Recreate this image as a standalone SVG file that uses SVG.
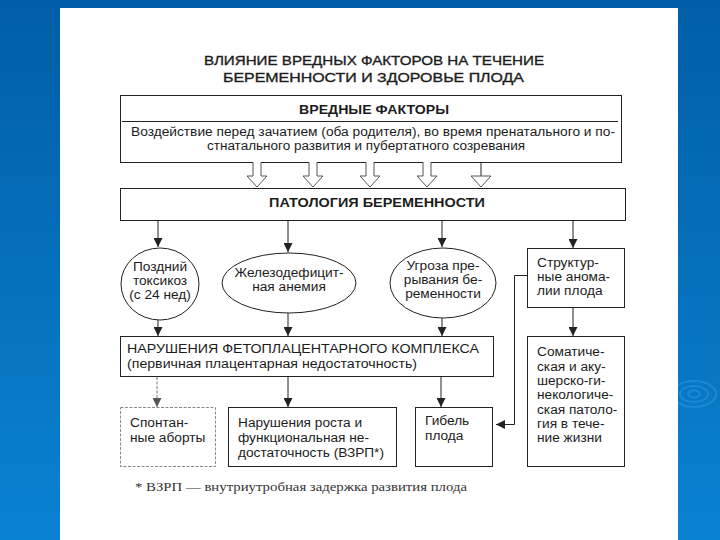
<svg xmlns="http://www.w3.org/2000/svg" width="720" height="540" viewBox="0 0 720 540">
<defs>
<linearGradient id="bg" x1="0" y1="0" x2="0" y2="1">
<stop offset="0" stop-color="#005ea6"/>
<stop offset="1" stop-color="#0a82d2"/>
</linearGradient>
<marker id="ah" viewBox="0 0 10 10" refX="10" refY="5" markerWidth="10" markerHeight="9" markerUnits="userSpaceOnUse" orient="auto">
<path d="M0,0 L10,5 L0,10 Z" fill="#222"/>
</marker>
<marker id="ahg" viewBox="0 0 10 10" refX="10" refY="5" markerWidth="10" markerHeight="9" markerUnits="userSpaceOnUse" orient="auto">
<path d="M0,0 L10,5 L0,10 Z" fill="#555"/>
</marker>
<style>
.t{font-family:"Liberation Sans",Arial,sans-serif;font-size:13.7px;fill:#1c1c1c}
.b{font-weight:bold}
.c{text-anchor:middle}
.box{fill:#fff;stroke:#222;stroke-width:1}
.lbox{fill:#fff;stroke:#888;stroke-width:1;stroke-dasharray:3 1.5}
.ell{fill:#fff;stroke:#222;stroke-width:1}
.ln{fill:none;stroke:#222;stroke-width:1}
.lg{fill:none;stroke:#777;stroke-width:1;stroke-dasharray:3 1.5}
.ha{fill:#fff;stroke:#555;stroke-width:1}
.fn{font-family:"Liberation Serif","Times New Roman",serif;font-size:13px;fill:#333}
</style>
</defs>
<rect x="0" y="0" width="720" height="540" fill="url(#bg)"/>
<g fill="none" stroke="#4aa6ea" stroke-opacity="0.35" stroke-width="2">
<ellipse cx="694" cy="394" rx="22" ry="13"/>
<ellipse cx="694" cy="394" rx="14" ry="8"/>
<ellipse cx="694" cy="394" rx="6" ry="3.5"/>
</g>
<rect x="60" y="8" width="618" height="532" fill="#fff"/>

<g id="title">
<text class="t" x="204" y="65" font-size="14.5" stroke="#1c1c1c" stroke-width="0.35" textLength="340" lengthAdjust="spacingAndGlyphs">ВЛИЯНИЕ ВРЕДНЫХ ФАКТОРОВ НА ТЕЧЕНИЕ</text>
<text class="t" x="223" y="82" font-size="14.5" stroke="#1c1c1c" stroke-width="0.35" textLength="301" lengthAdjust="spacingAndGlyphs">БЕРЕМЕННОСТИ И ЗДОРОВЬЕ ПЛОДА</text>
</g>

<g id="harmful-factors">
<rect class="box" x="120.5" y="95.5" width="501" height="67"/>
<line class="ln" x1="122" y1="121.5" x2="618" y2="121.5"/>
<text class="t b" x="299" y="114" textLength="150" lengthAdjust="spacingAndGlyphs">ВРЕДНЫЕ ФАКТОРЫ</text>
<text class="t" x="131" y="136" textLength="484" lengthAdjust="spacingAndGlyphs">Воздействие перед зачатием (оба родителя), во время пренатального и по-</text>
<text class="t" x="207" y="150" textLength="318" lengthAdjust="spacingAndGlyphs">стнатального развития и пубертатного созревания</text>
</g>

<g id="pregnancy-pathology">
<rect class="box" x="120.5" y="188.5" width="505" height="32"/>
<text class="t b" x="269" y="207" textLength="216" lengthAdjust="spacingAndGlyphs">ПАТОЛОГИЯ БЕРЕМЕННОСТИ</text>
</g>

<g id="late-toxicosis">
<ellipse class="ell" cx="160" cy="284" rx="39" ry="36"/>
<text class="t c" x="160" y="271">Поздний</text>
<text class="t c" x="160" y="285">токсикоз</text>
<text class="t c" x="160" y="299">(с 24 нед)</text>
</g>

<g id="anemia">
<ellipse class="ell" cx="289" cy="283" rx="67" ry="30"/>
<text class="t c" x="289" y="277">Железодефицит-</text>
<text class="t c" x="289" y="291">ная анемия</text>
</g>

<g id="threat">
<ellipse class="ell" cx="443" cy="283" rx="53" ry="35"/>
<text class="t c" x="443" y="270">Угроза пре-</text>
<text class="t c" x="443" y="284">рывания бе-</text>
<text class="t c" x="443" y="298">ременности</text>
</g>

<g id="structural">
<rect class="box" x="527.5" y="248.5" width="97" height="59"/>
<text class="t" x="537" y="267">Структур-</text>
<text class="t" x="537" y="281">ные анома-</text>
<text class="t" x="537" y="295">лии плода</text>
</g>

<g id="fetoplacental">
<rect class="box" x="120.5" y="336.5" width="373" height="40"/>
<text class="t" x="127" y="353" textLength="352" lengthAdjust="spacingAndGlyphs">НАРУШЕНИЯ ФЕТОПЛАЦЕНТАРНОГО КОМПЛЕКСА</text>
<text class="t" x="127" y="368" textLength="290" lengthAdjust="spacingAndGlyphs">(первичная плацентарная недостаточность)</text>
</g>

<g id="somatic">
<rect class="box" x="527.5" y="336.5" width="97" height="130"/>
<text class="t" x="537" y="356">Соматиче-</text>
<text class="t" x="537" y="371">ская и аку-</text>
<text class="t" x="537" y="385">шерско-ги-</text>
<text class="t" x="537" y="399">некологиче-</text>
<text class="t" x="537" y="414">ская патоло-</text>
<text class="t" x="537" y="428">гия в тече-</text>
<text class="t" x="537" y="442">ние жизни</text>
</g>

<g id="abortions">
<rect class="lbox" x="120.5" y="407.5" width="95" height="59"/>
<text class="t" x="130" y="427">Спонтан-</text>
<text class="t" x="130" y="442">ные аборты</text>
</g>

<g id="growth">
<rect class="box" x="228.5" y="407.5" width="168" height="59"/>
<text class="t" x="238" y="427">Нарушения роста и</text>
<text class="t" x="238" y="442">функциональная не-</text>
<text class="t" x="238" y="457">достаточность (ВЗРП*)</text>
</g>

<g id="death">
<rect class="box" x="415.5" y="407.5" width="77" height="59"/>
<text class="t" x="425" y="425">Гибель</text>
<text class="t" x="425" y="440">плода</text>
</g>

<g id="footnote">
<text class="fn" x="135" y="491" textLength="332" lengthAdjust="spacingAndGlyphs">* ВЗРП — внутриутробная задержка развития плода</text>
</g>

<g id="connectors">
<path class="ha" d="M253,162 V176 H247 L257,187 L267,176 H261 V162"/>
<path class="ha" d="M309,162 V176 H303 L313,187 L323,176 H317 V162"/>
<path class="ha" d="M366,162 V176 H360 L370,187 L380,176 H374 V162"/>
<path class="ha" d="M423,162 V176 H417 L427,187 L437,176 H431 V162"/>
<line class="ln" x1="481" y1="162" x2="481" y2="176" stroke="#555"/>
<path class="ha" d="M471,176 L481,187 L491,176 Z"/>

<line class="ln" x1="158" y1="221" x2="158" y2="247" marker-end="url(#ah)"/>
<line class="ln" x1="288" y1="221" x2="288" y2="252" marker-end="url(#ah)"/>
<line class="ln" x1="442" y1="221" x2="442" y2="247" marker-end="url(#ah)"/>
<line class="ln" x1="573" y1="221" x2="573" y2="248" marker-end="url(#ah)"/>

<line class="ln" x1="158" y1="320" x2="158" y2="336" marker-end="url(#ah)"/>
<line class="ln" x1="288" y1="313" x2="288" y2="336" marker-end="url(#ah)"/>
<line class="ln" x1="442" y1="318" x2="442" y2="336" marker-end="url(#ah)"/>
<line class="ln" x1="573" y1="308" x2="573" y2="336" marker-end="url(#ah)"/>

<line class="lg" x1="157" y1="377" x2="157" y2="407" marker-end="url(#ahg)"/>
<line class="ln" x1="288" y1="377" x2="288" y2="407" marker-end="url(#ah)"/>
<line class="ln" x1="441" y1="377" x2="441" y2="407" marker-end="url(#ah)"/>

<polyline class="ln" points="527,275.5 514.5,275.5 514.5,424.5 496,424.5" marker-end="url(#ah)"/>
</g>
</svg>
